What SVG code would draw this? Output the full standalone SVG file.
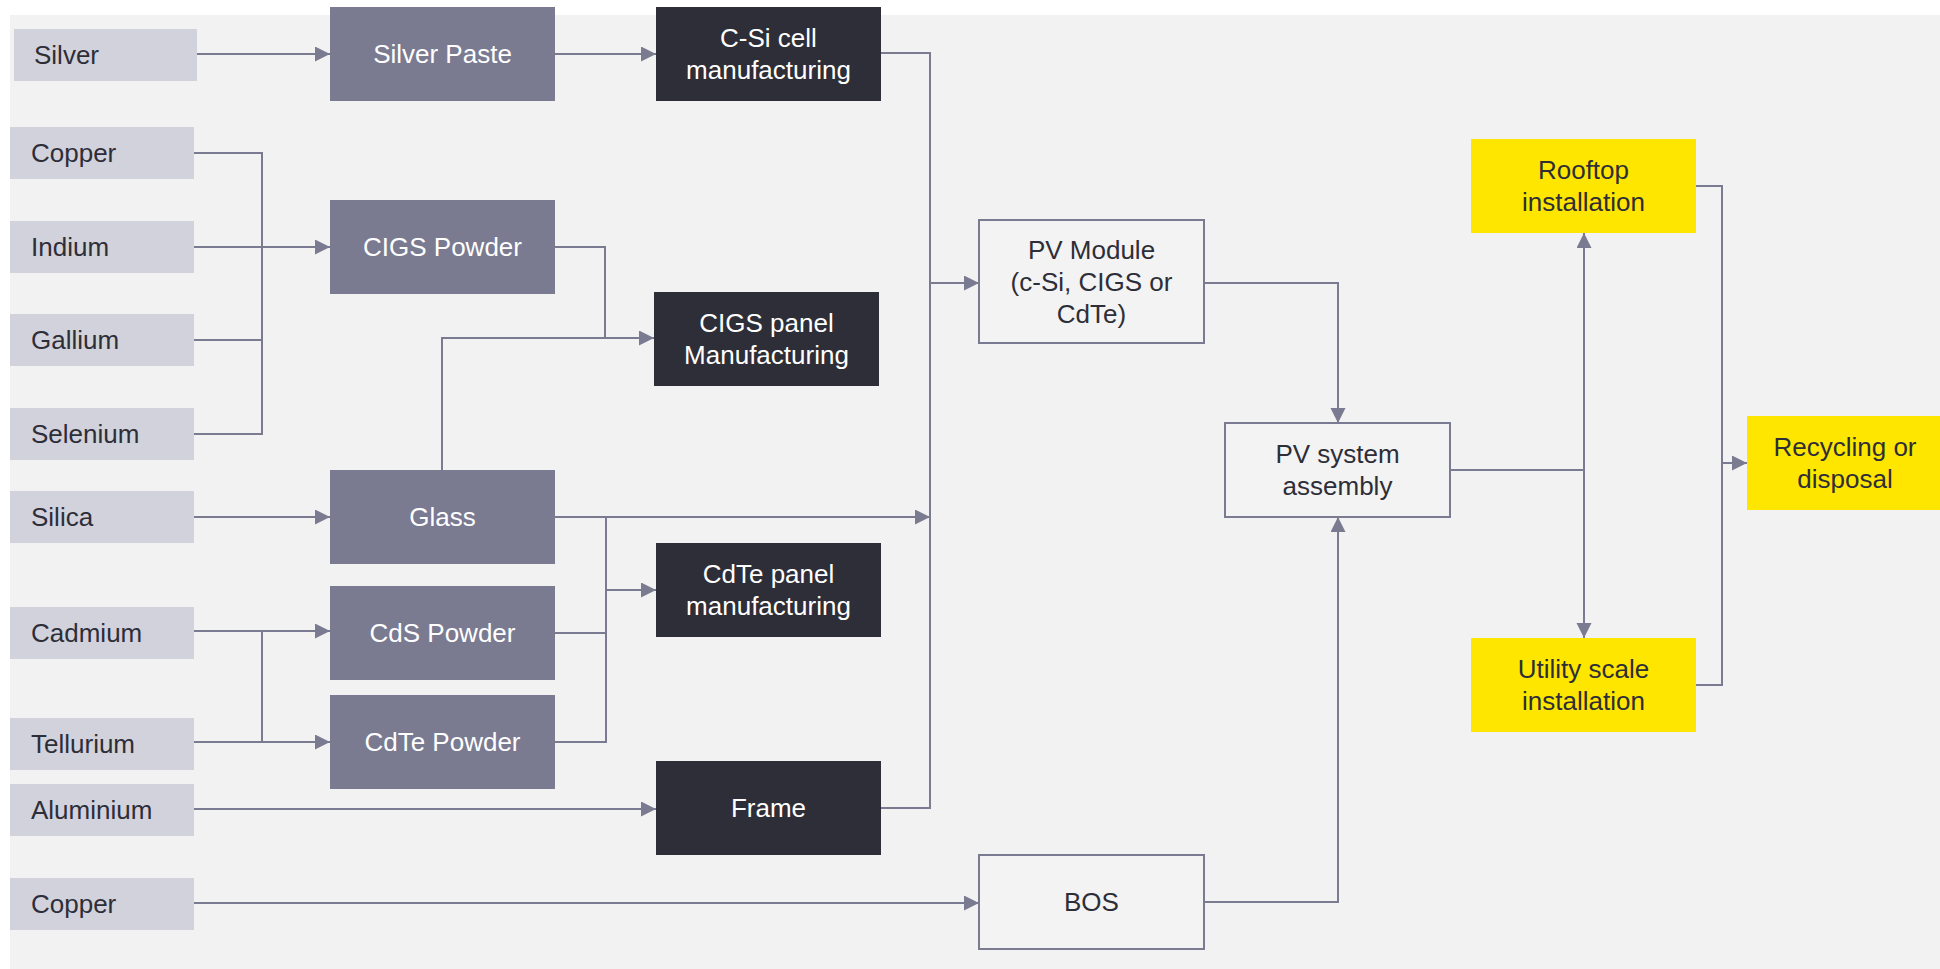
<svg xmlns="http://www.w3.org/2000/svg" width="1940" height="969" viewBox="0 0 1940 969">
<defs>
<style>
.raw{fill:#d2d2dc}
.mid{fill:#7a7a91}
.dark{fill:#2e2e38}
.yel{fill:#ffe600}
.out{fill:#f3f3f3;stroke:#7a7a91;stroke-width:2}
text{font-family:"Liberation Sans",Arial,sans-serif;font-size:26px}
.tl{fill:#2e2e38}
.tw{fill:#ffffff;text-anchor:middle}
.td{fill:#2e2e38;text-anchor:middle}
.c{fill:none;stroke:#7a7a91;stroke-width:2}
</style>
<marker id="ah" markerUnits="userSpaceOnUse" markerWidth="16" markerHeight="16" refX="15" refY="7.5" orient="auto">
<path d="M0,0 L15,7.5 L0,15 z" fill="#7a7a91"/>
</marker>
</defs>
<rect x="0" y="0" width="1940" height="969" fill="#ffffff"/>
<rect x="10" y="15" width="1930" height="954" fill="#f2f2f2"/>

<g id="connectors">
<path class="c" d="M197,54 H330" marker-end="url(#ah)"/>
<path class="c" d="M555,54 H656" marker-end="url(#ah)"/>
<path class="c" d="M194,153 H262 V434 H194"/>
<path class="c" d="M194,340 H262"/>
<path class="c" d="M194,247 H330" marker-end="url(#ah)"/>
<path class="c" d="M555,247 H605 V338"/>
<path class="c" d="M442,470 V338 H654" marker-end="url(#ah)"/>
<path class="c" d="M194,517 H330" marker-end="url(#ah)"/>
<path class="c" d="M555,517 H930" marker-end="url(#ah)"/>
<path class="c" d="M606,517 V742 H555"/>
<path class="c" d="M555,633 H606"/>
<path class="c" d="M606,590 H656" marker-end="url(#ah)"/>
<path class="c" d="M194,631 H330" marker-end="url(#ah)"/>
<path class="c" d="M262,631 V742"/>
<path class="c" d="M194,742 H330" marker-end="url(#ah)"/>
<path class="c" d="M194,809 H656" marker-end="url(#ah)"/>
<path class="c" d="M194,903 H979" marker-end="url(#ah)"/>
<path class="c" d="M881,53 H930 V808 H881"/>
<path class="c" d="M930,283 H979" marker-end="url(#ah)"/>
<path class="c" d="M1204,283 H1338 V423" marker-end="url(#ah)"/>
<path class="c" d="M1204,902 H1338 V517" marker-end="url(#ah)"/>
<path class="c" d="M1450,470 H1584"/>
<path class="c" d="M1584,470 V233" marker-end="url(#ah)"/>
<path class="c" d="M1584,470 V638" marker-end="url(#ah)"/>
<path class="c" d="M1696,186 H1722 V685 H1696"/>
<path class="c" d="M1722,463 H1747" marker-end="url(#ah)"/>
</g>

<g id="silver"><rect class="raw" x="14" y="29" width="183" height="52"/><text class="tl" x="34" y="64">Silver</text></g>
<g id="copper1"><rect class="raw" x="10" y="127" width="184" height="52"/><text class="tl" x="31" y="162">Copper</text></g>
<g id="indium"><rect class="raw" x="10" y="221" width="184" height="52"/><text class="tl" x="31" y="256">Indium</text></g>
<g id="gallium"><rect class="raw" x="10" y="314" width="184" height="52"/><text class="tl" x="31" y="349">Gallium</text></g>
<g id="selenium"><rect class="raw" x="10" y="408" width="184" height="52"/><text class="tl" x="31" y="443">Selenium</text></g>
<g id="silica"><rect class="raw" x="10" y="491" width="184" height="52"/><text class="tl" x="31" y="526">Silica</text></g>
<g id="cadmium"><rect class="raw" x="10" y="607" width="184" height="52"/><text class="tl" x="31" y="642">Cadmium</text></g>
<g id="tellurium"><rect class="raw" x="10" y="718" width="184" height="52"/><text class="tl" x="31" y="753">Tellurium</text></g>
<g id="aluminium"><rect class="raw" x="10" y="784" width="184" height="52"/><text class="tl" x="31" y="819">Aluminium</text></g>
<g id="copper2"><rect class="raw" x="10" y="878" width="184" height="52"/><text class="tl" x="31" y="913">Copper</text></g>

<g id="silver-paste"><rect class="mid" x="330" y="7" width="225" height="94"/><text class="tw" x="442.5" y="63">Silver Paste</text></g>
<g id="cigs-powder"><rect class="mid" x="330" y="200" width="225" height="94"/><text class="tw" x="442.5" y="256">CIGS Powder</text></g>
<g id="glass"><rect class="mid" x="330" y="470" width="225" height="94"/><text class="tw" x="442.5" y="526">Glass</text></g>
<g id="cds-powder"><rect class="mid" x="330" y="586" width="225" height="94"/><text class="tw" x="442.5" y="642">CdS Powder</text></g>
<g id="cdte-powder"><rect class="mid" x="330" y="695" width="225" height="94"/><text class="tw" x="442.5" y="751">CdTe Powder</text></g>

<g id="csi-cell"><rect class="dark" x="656" y="7" width="225" height="94"/><text class="tw" x="768.5" y="47">C-Si cell</text><text class="tw" x="768.5" y="79">manufacturing</text></g>
<g id="cigs-panel"><rect class="dark" x="654" y="292" width="225" height="94"/><text class="tw" x="766.5" y="332">CIGS panel</text><text class="tw" x="766.5" y="364">Manufacturing</text></g>
<g id="cdte-panel"><rect class="dark" x="656" y="543" width="225" height="94"/><text class="tw" x="768.5" y="583">CdTe panel</text><text class="tw" x="768.5" y="615">manufacturing</text></g>
<g id="frame"><rect class="dark" x="656" y="761" width="225" height="94"/><text class="tw" x="768.5" y="817">Frame</text></g>

<g id="pv-module"><rect class="out" x="979" y="220" width="225" height="123"/><text class="td" x="1091.5" y="259">PV Module</text><text class="td" x="1091.5" y="291">(c-Si, CIGS or</text><text class="td" x="1091.5" y="323">CdTe)</text></g>
<g id="bos"><rect class="out" x="979" y="855" width="225" height="94"/><text class="td" x="1091.5" y="911">BOS</text></g>
<g id="pv-system"><rect class="out" x="1225" y="423" width="225" height="94"/><text class="td" x="1337.5" y="463">PV system</text><text class="td" x="1337.5" y="495">assembly</text></g>

<g id="rooftop"><rect class="yel" x="1471" y="139" width="225" height="94"/><text class="td" x="1583.5" y="179">Rooftop</text><text class="td" x="1583.5" y="211">installation</text></g>
<g id="utility"><rect class="yel" x="1471" y="638" width="225" height="94"/><text class="td" x="1583.5" y="678">Utility scale</text><text class="td" x="1583.5" y="710">installation</text></g>
<g id="recycling"><rect class="yel" x="1747" y="416" width="193" height="94"/><text class="td" x="1845" y="456">Recycling or</text><text class="td" x="1845" y="488">disposal</text></g>
</svg>
